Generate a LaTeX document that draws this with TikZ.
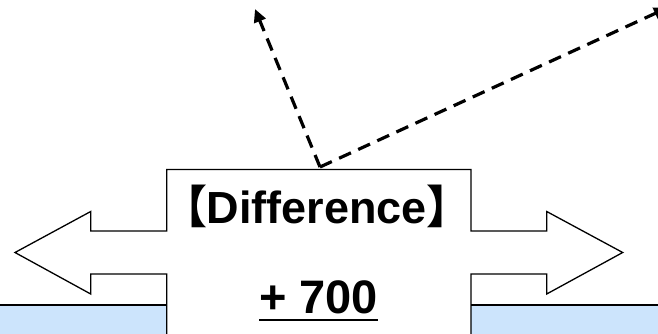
\documentclass[tikz,border=0pt]{standalone}
\usepackage{fontspec}
\setmainfont{Liberation Sans}
\newfontfamily\cjk{Noto Sans CJK SC}
\usetikzlibrary{arrows.meta}
\definecolor{bandblue}{RGB}{204,228,252}
\begin{document}
\begin{tikzpicture}[x=1pt,y=-1pt,
  outline/.style={draw=black,line width=1.3pt,line join=miter},
  band/.style={fill=bandblue,draw=none},
  dasharrow/.style={draw=black,line width=3.2pt,dash pattern=on 13pt off 8pt,-{Triangle[length=13pt,width=12pt]}},
  lbl/.style={font=\bfseries,inner sep=0pt,anchor=base}]
\useasboundingbox (0,0) rectangle (658,334);
\clip (0,0) rectangle (658,334);
\fill[band] (0,305) rectangle (166.7,334);
\fill[band] (471,305) rectangle (658,334);
\draw[outline] (0,305) -- (166.7,305);
\draw[outline] (471,305) -- (658,305);
\draw[outline] (166.7,340) -- (166.7,274) -- (90.7,274) -- (90.7,294) -- (15,252.5) -- (90.7,211.5) -- (90.7,231) -- (166.7,231) -- (166.7,169.5) -- (471,169.5) -- (471,231) -- (546.7,231) -- (546.7,211.5) -- (622.7,252.5) -- (546.7,294) -- (546.7,274) -- (471,274) -- (471,340);
\coordinate (src) at (320,167);
\coordinate (tipL) at (255,9);
\coordinate (tipR) at (667,8);
\draw[dasharrow] (src) -- (tipL);
\draw[dasharrow] (src) -- (tipR);
\node[lbl] (diff) at (317,223) {\fontsize{45}{50}\selectfont{\cjk 【}\kern-1pt Difference\kern-1pt{\cjk 】}};
\node[lbl] (num) at (318.7,313.5) {\fontsize{47}{52}\selectfont + 700};
\draw[line width=2pt] ([yshift=-6pt]num.base west) -- ([yshift=-6pt]num.base east);
\end{tikzpicture}
\end{document}
